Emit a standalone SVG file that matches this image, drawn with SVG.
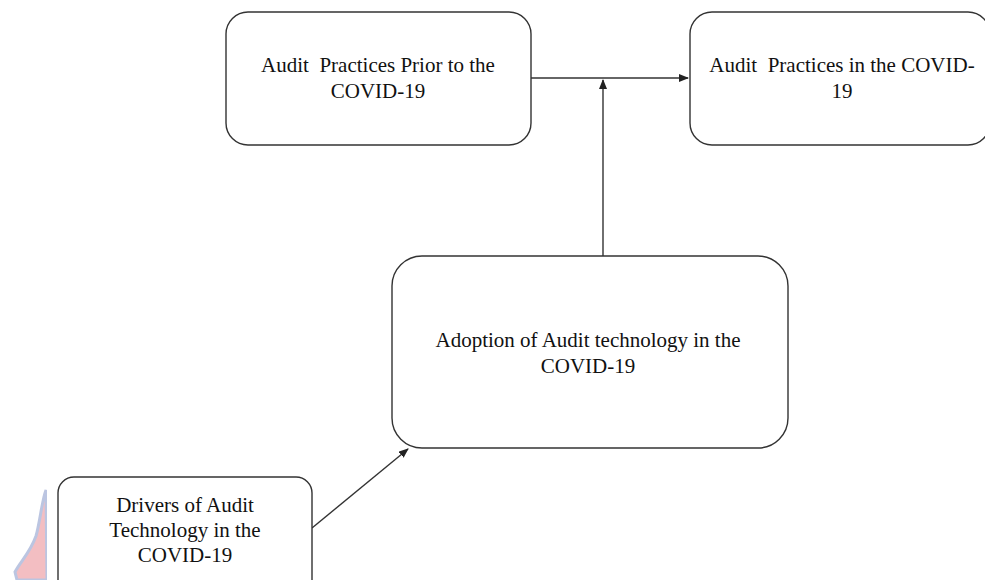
<svg xmlns="http://www.w3.org/2000/svg" width="985" height="580" viewBox="0 0 985 580">
<style>
.box{fill:#fff;stroke:#333;stroke-width:1.4}
.t{font-family:"Liberation Serif","Times New Roman",serif;font-size:21px;fill:#111;text-anchor:middle;white-space:pre}
.c{stroke:#333;stroke-width:1.4;fill:none}
</style>
<defs>
<marker id="ah" markerWidth="10" markerHeight="8" refX="9" refY="4" orient="auto" markerUnits="userSpaceOnUse">
<path d="M0,0 L10,4 L0,8 Z" fill="#222"/>
</marker>
</defs>
<rect width="985" height="580" fill="#fff"/>
<g id="watermark" opacity="0.85">
<path d="M46,490 C42,500 40,522 36,536 C30,553 20,562 15,572 L17,580 L47,580 Z" fill="#f2b3b8" stroke="#b0bbdc" stroke-width="3"/>
<rect x="47" y="480" width="8" height="100" fill="#fff"/>
</g>
<g id="connectors">
<line class="c" x1="531" y1="78" x2="688" y2="78" marker-end="url(#ah)"/>
<line class="c" x1="603" y1="256" x2="603" y2="80" marker-end="url(#ah)"/>
<line class="c" x1="312" y1="528" x2="408" y2="449" marker-end="url(#ah)"/>
</g>
<g id="prior">
<rect class="box" x="226" y="12" width="305" height="133" rx="22"/>
<text class="t" x="378" y="72">Audit  Practices Prior to the</text>
<text class="t" x="378" y="98">COVID-19</text>
</g>
<g id="incovid">
<rect class="box" x="690" y="12" width="300" height="133" rx="22"/>
<text class="t" x="842" y="72">Audit  Practices in the COVID-</text>
<text class="t" x="842" y="98">19</text>
</g>
<g id="adoption">
<rect class="box" x="392" y="256" width="396" height="192" rx="30"/>
<text class="t" x="588" y="347">Adoption of Audit technology in the</text>
<text class="t" x="588" y="373">COVID-19</text>
</g>
<g id="drivers">
<rect class="box" x="58" y="477" width="254" height="120" rx="16"/>
<text class="t" x="185" y="512">Drivers of Audit</text>
<text class="t" x="185" y="537">Technology in the</text>
<text class="t" x="185" y="562">COVID-19</text>
</g>
</svg>
